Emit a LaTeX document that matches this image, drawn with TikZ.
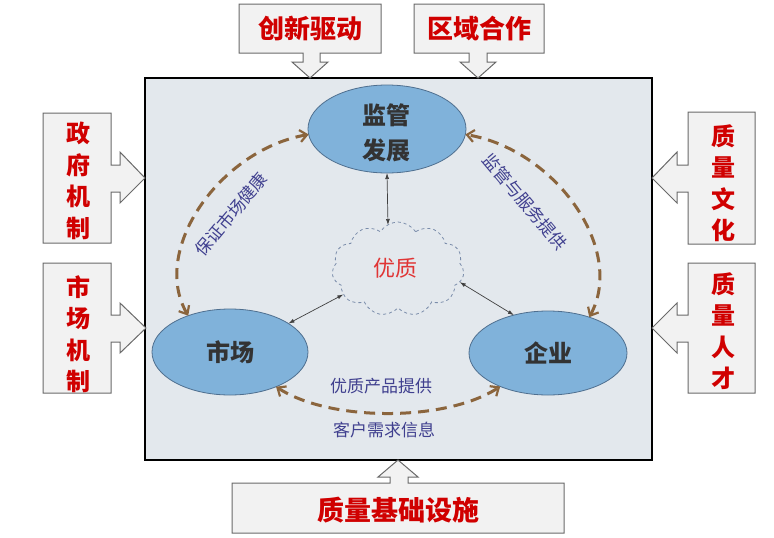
\documentclass[tikz,border=0pt]{standalone}
\usepackage{fontspec}
\newfontfamily\cjk{Noto Sans CJK SC}
\usetikzlibrary{arrows.meta,shapes.geometric,shapes.symbols}
\definecolor{bgc}{HTML}{E3E8ED}
\definecolor{elfill}{HTML}{80B2DA}
\definecolor{eldraw}{HTML}{4F6F8F}
\definecolor{brownc}{HTML}{8B653D}
\definecolor{labc}{HTML}{40408F}
\definecolor{redc}{HTML}{D00000}
\definecolor{boxfill}{HTML}{F2F2F2}
\definecolor{boxdraw}{HTML}{6A6A6A}
\definecolor{cloudc}{HTML}{7A8CAA}
\definecolor{quality}{HTML}{E03535}
\tikzset{
  callout/.style={fill=boxfill,draw=boxdraw,line width=1pt,line join=miter},
  redtxt/.style={text=redc,font=\cjk\bfseries\fontsize{26}{32}\selectfont,inner sep=0pt,align=center},
  vtxt/.style={text=redc,font=\cjk\bfseries\fontsize{24}{31.5}\selectfont,inner sep=0pt,align=center},
  ell/.style={ellipse,fill=elfill,draw=eldraw,line width=0.8pt,inner sep=0pt,outer sep=0pt,
     text=black!80,font=\cjk\bfseries\fontsize{24}{35}\selectfont,align=center},
  lab/.style={text=labc,font=\cjk\fontsize{17}{20}\selectfont,inner sep=0pt},
  brarc/.style={draw=brownc,line width=3pt,dash pattern=on 11pt off 7pt,
     {Straight Barb[length=7pt,width=12pt,line width=2.2pt]}-{Straight Barb[length=7pt,width=12pt,line width=2.2pt]}},
  thin2/.style={draw=black!75,line width=0.7pt,{Latex[length=6pt,width=4pt]}-{Latex[length=6pt,width=4pt]}}
}
\begin{document}
\begin{tikzpicture}[x=1pt,y=-1pt]
\useasboundingbox (0,0) rectangle (774,538);
% main box
\draw[fill=bgc,draw=black,line width=1.4pt] (145,78) rectangle (652,460);
% top callouts
\draw[callout] (239,4) -- (381,4) -- (381,53) -- (320,53) -- (320,62) -- (328,62) -- (310,78) -- (292,62) -- (303,62) -- (303,53) -- (239,53) -- cycle;
\node[redtxt] (cx) at (310,29) {创新驱动};
\draw[callout] (414,4) -- (544,4) -- (544,53) -- (487,53) -- (487,62) -- (496,62) -- (478,78) -- (460,62) -- (469,62) -- (469,53) -- (414,53) -- cycle;
\node[redtxt] (qy2) at (479,29) {区域合作};
% left callouts
\draw[callout] (43,113) -- (111,113) -- (111,165) -- (120,165) -- (120,152) -- (145,178) -- (120,203) -- (120,192) -- (111,192) -- (111,243) -- (43,243) -- cycle;
\node[vtxt] (zf) at (78,181) {政\\府\\机\\制};
\draw[callout] (43,263) -- (111,263) -- (111,315) -- (120,315) -- (120,303) -- (146,328) -- (120,353) -- (120,342) -- (111,342) -- (111,393) -- (43,393) -- cycle;
\node[vtxt] (scjz) at (78,334) {市\\场\\机\\制};
% right callouts
\draw[callout] (755,112) -- (688,112) -- (688,165) -- (677,165) -- (677,152) -- (652,178) -- (677,203) -- (677,192) -- (688,192) -- (688,244) -- (755,244) -- cycle;
\node[vtxt] (whc) at (723,183) {质\\量\\文\\化};
\draw[callout] (755,263) -- (688,263) -- (688,315) -- (677,315) -- (677,303) -- (652,328) -- (677,353) -- (677,342) -- (688,342) -- (688,393) -- (755,393) -- cycle;
\node[vtxt] (rc) at (723,331) {质\\量\\人\\才};
% bottom callout
\draw[callout] (232,483) -- (390,483) -- (390,477) -- (378,477) -- (398,460) -- (418,477) -- (408,477) -- (408,483) -- (564,483) -- (564,533) -- (232,533) -- cycle;
\node[redtxt,font=\cjk\bfseries\fontsize{27}{32}\selectfont] (jc) at (398,510) {质量基础设施};
% ellipses
\node[ell,minimum width=158pt,minimum height=88pt] (jg) at (387,129) {};
\node[text=black!80,font=\cjk\bfseries\fontsize{24}{35}\selectfont,align=center,inner sep=0pt] (jgt) at (386,133) {监管\\发展};
\node[ell,minimum width=156pt,minimum height=86pt] (sc) at (230,352) {市场};
\node[ell,minimum width=158pt,minimum height=84pt] (qy) at (548,353) {企业};
% cloud
\node[cloud,cloud puffs=11,cloud puff arc=115,aspect=1.45,minimum width=132pt,minimum height=94pt,
  draw=cloudc,dashed,line width=0.8pt,inner sep=0pt,outer sep=0pt] (cl) at (398,269) {};
\node[text=quality,font=\cjk\fontsize{22}{26}\selectfont,inner sep=0pt] (yz) at (395,268) {优质};
% thin arrows
\draw[thin2] (jg.south) -- (388,225);
\draw[thin2] (sc.26) -- (cl.205);
\draw[thin2] (qy.132) -- (cl.-12);
% brown dashed arcs
\draw[brarc] (sc.139) .. controls (150,250) and (220,150) .. (jg.184);
\draw[brarc] (qy.41) .. controls (626,250) and (556,150) .. (jg.-4);
\draw[brarc] (sc.-37) .. controls (330,422) and (446,422) .. (qy.215);
% labels
\node[lab,rotate=50] (l1) at (231,214) {保证市场健康};
\node[lab,rotate=-50] (l2) at (525,202) {监管与服务提供};
\node[lab] (l3) at (381,386) {优质产品提供};
\node[lab] (l4) at (384,430) {客户需求信息};
\end{tikzpicture}
\end{document}
